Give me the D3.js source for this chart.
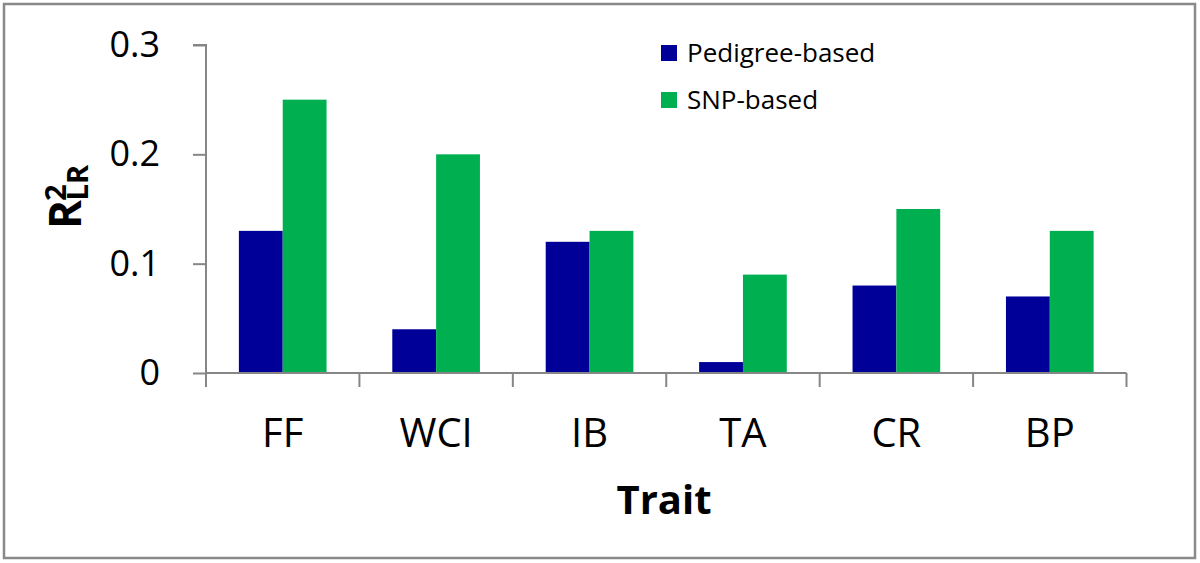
<!DOCTYPE html>
<html><head><meta charset="utf-8">
<script src="https://cdn.jsdelivr.net/npm/d3@7"></script>
<style>html,body{margin:0;padding:0;background:#fff}svg{display:block}</style>
</head><body>
<script>
const categories = ["FF","WCI","IB","TA","CR","BP"];
const seriesNames = ["Pedigree-based","SNP-based"];
const pedigree = [0.13,0.04,0.12,0.01,0.08,0.07];
const snp = [0.25,0.20,0.13,0.09,0.15,0.13];
const yTicks = [0,0.1,0.2,0.3];
const colors = ["#000099","#00B050"];

const W=1200,H=563;
const svg=d3.select("body").append("svg").attr("width",W).attr("height",H);
const font="'Open Sans', 'Noto Sans', sans-serif";

svg.append("rect").attr("x",4).attr("y",4).attr("width",1191).attr("height",554)
  .attr("fill","#fff").attr("stroke","#898989").attr("stroke-width",2.5);

const x=d3.scaleBand().domain(categories).range([206,1126.5]);
const inner=d3.scaleBand().domain(seriesNames).range([0,x.bandwidth()]).paddingInner(0).paddingOuter(0.75);
const y=d3.scaleLinear().domain([0,0.3]).range([373,45]);

const series=[pedigree,snp];
series.forEach((vals,si)=>{
  svg.append("g").selectAll("rect").data(categories).join("rect")
    .attr("x",(c)=>x(c)+inner(seriesNames[si]))
    .attr("width",inner.bandwidth())
    .attr("y",(c,i)=>y(vals[i]))
    .attr("height",(c,i)=>y(0)-y(vals[i]))
    .attr("fill",colors[si]);
});

// y axis
const gy=svg.append("g").attr("transform","translate(206,0)")
  .call(d3.axisLeft(y).tickValues(yTicks).tickFormat(d=>d===0?"0":d3.format(".1f")(d)).tickSize(13).tickPadding(33));
gy.select(".domain").attr("stroke","#868686").attr("stroke-width",2).attr("d","M-13,45H0V373");
gy.selectAll(".tick line").attr("stroke","#868686").attr("stroke-width",2);
gy.selectAll(".tick text").attr("font-family",font).attr("font-size",36).attr("fill","#000");

// x axis
const gx=svg.append("g").attr("transform","translate(0,373)");
gx.append("line").attr("x1",206).attr("x2",1126.5).attr("y1",0).attr("y2",0).attr("stroke","#868686").attr("stroke-width",2);
const bounds=categories.map(c=>x(c)).concat([x(categories[categories.length-1])+x.step()]);
gx.selectAll("line.t").data(bounds).join("line").attr("class","t")
  .attr("x1",d=>d).attr("x2",d=>d).attr("y1",0).attr("y2",14).attr("stroke","#868686").attr("stroke-width",2);
gx.selectAll("text").data(categories).join("text")
  .attr("x",c=>x(c)+x.bandwidth()/2).attr("y",74)
  .attr("text-anchor","middle").attr("font-family",font).attr("font-size",40).attr("fill","#000").text(c=>c);

// x title
svg.append("text").attr("x",664).attr("y",514).attr("text-anchor","middle")
  .attr("font-family",font).attr("font-weight","bold").attr("font-size",40).text("Trait");

// y title
const yt=svg.append("text").attr("transform","translate(81,197) rotate(-90)")
  .attr("text-anchor","middle").attr("font-family",font).attr("font-weight","bold").attr("font-size",44);
yt.append("tspan").text("R");
yt.append("tspan").attr("font-size",29).attr("dy",-15).attr("dx",-1).text("2");
yt.append("tspan").attr("font-size",29).attr("dy",22).attr("dx",-16).text("LR");

// legend
const lg=svg.append("g");
seriesNames.forEach((s,i)=>{
  lg.append("rect").attr("x",661).attr("y",45+i*47).attr("width",16).attr("height",16).attr("fill",colors[i]);
  lg.append("text").attr("x",687).attr("y",62+i*47).attr("font-family",font).attr("font-size",26).attr("fill","#000").text(s);
});
</script>
</body></html>
